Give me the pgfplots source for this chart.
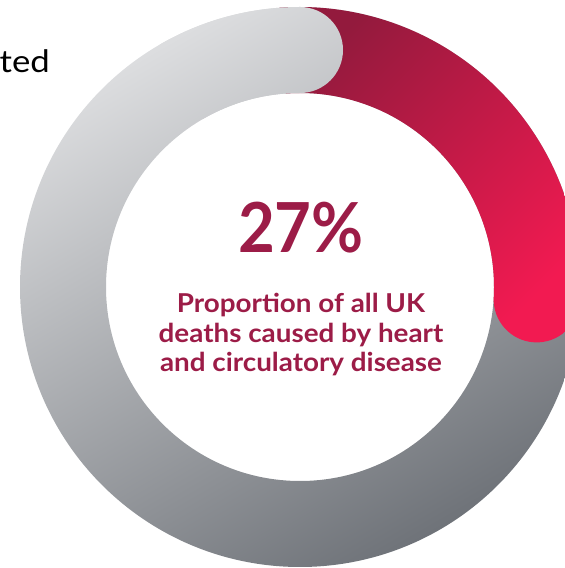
\documentclass[border=0pt]{standalone}
\usepackage{fontspec}
\setmainfont{Lato}
\newfontfamily\widebold[FakeStretch=1.07]{Lato Bold}
\newfontfamily\wideregular[FakeStretch=1.12]{Lato}
\usepackage{pgfplots}
\pgfplotsset{compat=1.18}
\usepackage{pgfplotstable}
\usetikzlibrary{calc}
\definecolor{greyL}{HTML}{DCDDDF}
\definecolor{greyD}{HTML}{6F7379}
\definecolor{redD}{HTML}{931A3D}
\definecolor{redL}{HTML}{F21A51}
\definecolor{txt}{HTML}{9C1C47}
\tikzset{greyshade/.style={even odd rule, top color=greyL, bottom color=greyD, shading angle=30}}

\pgfplotstableread{
category value
Heart 27
Other 73
}\donutdata

\begin{document}%
\pgfplotstablegetelem{0}{value}\of\donutdata%
\pgfmathsetmacro{\share}{\pgfplotsretval}%
\pgfmathsetmacro{\aEnd}{-3}%
\pgfmathsetmacro{\aStart}{\aEnd+3.6*\share}%
\pgfmathsetmacro{\aCap}{\aEnd-180}%
\begin{tikzpicture}
\begin{axis}[x=1pt,y=1pt,xmin=0,xmax=565,ymin=0,ymax=568,
  scale only axis,hide axis,clip=true,anchor=origin,at={(0,0)}]
% grey ring (remaining share)
\shade[greyshade]
  (axis cs:300,281) circle[radius=280pt] (axis cs:300,281) circle[radius=194pt];
% red arc (heart and circulatory disease share)
\shade[top color=redD, bottom color=redL, shading angle=45]
  ($(axis cs:300,281)+(\aStart:280pt)$) arc[start angle=\aStart, end angle=\aEnd, radius=280pt]
  arc[start angle=\aEnd, end angle=\aCap, radius=43pt]
  arc[start angle=\aEnd, end angle=\aStart, radius=194pt] -- cycle;
% grey rounded end over the start of the red arc
\begin{scope}
\clip ($(axis cs:300,281)+(90:237pt)$) circle[radius=43pt];
\shade[greyshade]
  (axis cs:300,281) circle[radius=280pt] (axis cs:300,281) circle[radius=194pt];
\end{scope}
\begin{scope}
\clip ($(axis cs:300,281)+(90:281pt)$) arc[start angle=90, end angle=120, radius=281pt]
  -- ($(axis cs:300,281)+(120:193pt)$) arc[start angle=120, end angle=90, radius=193pt] -- cycle;
\shade[greyshade]
  (axis cs:300,281) circle[radius=280pt] (axis cs:300,281) circle[radius=194pt];
\end{scope}
% texts
\node[anchor=base, text=txt, font=\bfseries\fontsize{69}{69}\selectfont] at (axis cs:301,315) {\scalebox{0.92}[1]{27\%}};
\node[anchor=base, text=txt, font=\widebold\fontsize{26}{30}\selectfont] at (axis cs:301,255) {Proportion of all UK};
\node[anchor=base, text=txt, font=\widebold\fontsize{26}{30}\selectfont] at (axis cs:301,225) {deaths caused by heart};
\node[anchor=base, text=txt, font=\widebold\fontsize{26}{30}\selectfont] at (axis cs:301,196) {and circulatory disease};
\node[anchor=base east, inner sep=0pt, text=black, font=\wideregular\fontsize{31}{31}\selectfont] at (axis cs:50,495) {ted};
\end{axis}
\pgfresetboundingbox
\useasboundingbox (0,0) rectangle (565pt,568pt);
\end{tikzpicture}%
\end{document}
